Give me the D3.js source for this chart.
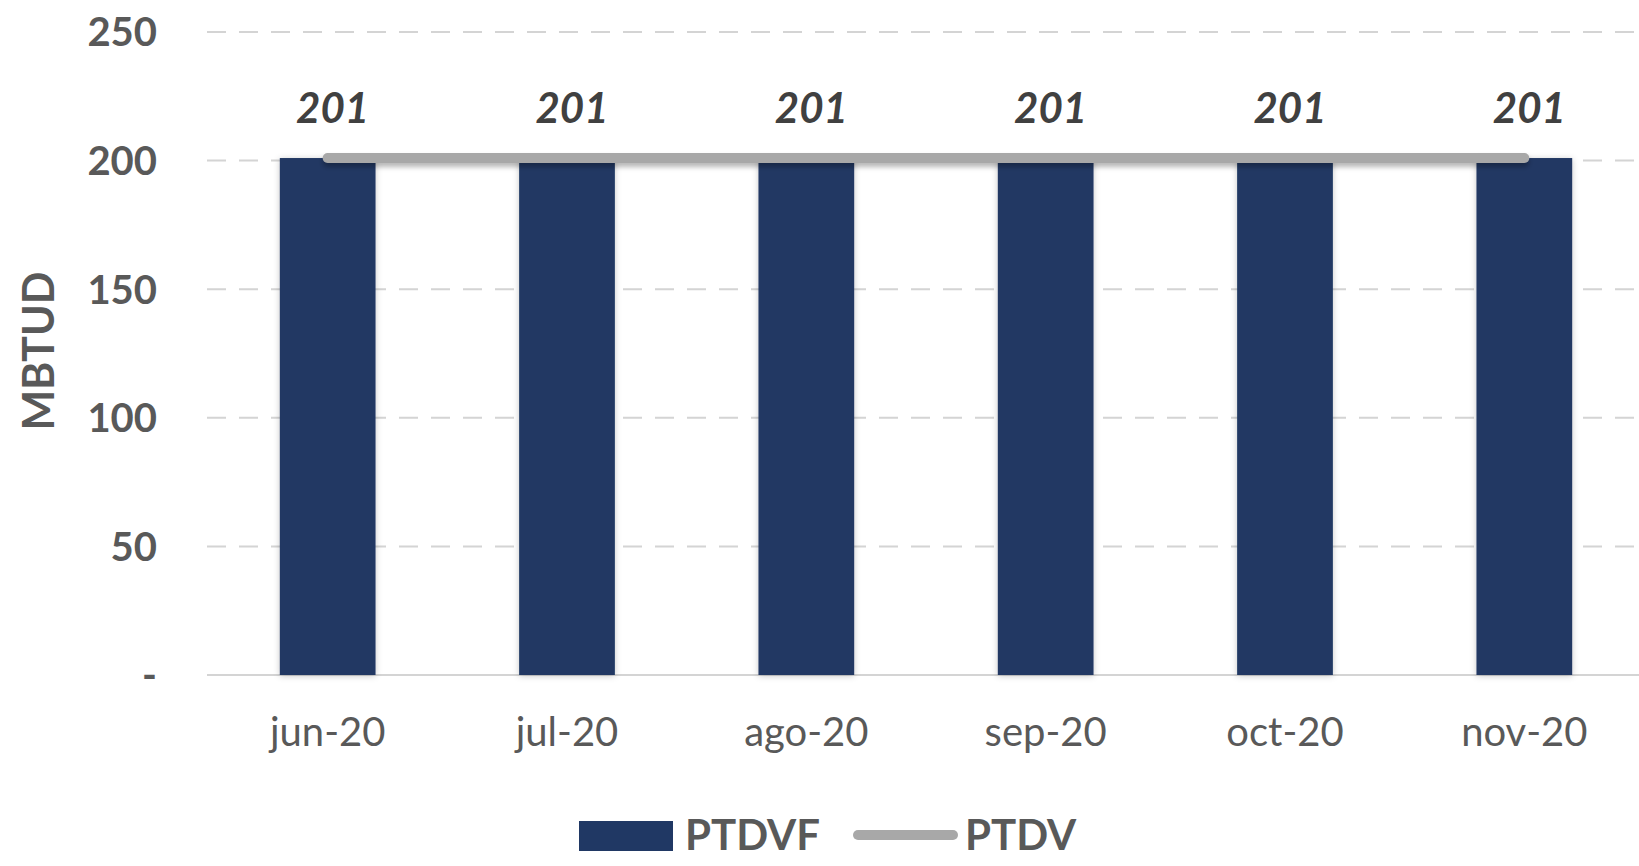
<!DOCTYPE html>
<html>
<head>
<meta charset="utf-8">
<script src="https://cdn.jsdelivr.net/npm/d3@7"></script>
<style>
  html, body { margin: 0; padding: 0; background: #fff; }
  svg { display: block; font-family: Lato, "Open Sans", sans-serif; }
</style>
</head>
<body>
<svg id="chart" width="1639" height="866"></svg>
<script>
const categories = ["jun-20", "jul-20", "ago-20", "sep-20", "oct-20", "nov-20"];
const ptdvf = [201, 201, 201, 201, 201, 201];
const ptdv = [201, 201, 201, 201, 201, 201];
const yTicks = [0, 50, 100, 150, 200, 250];
const seriesNames = ["PTDVF", "PTDV"];
const yTitle = "MBTUD";

const svg = d3.select("#chart");
const defs = svg.append("defs");
const sh = defs.append("filter").attr("id", "barShadow")
  .attr("filterUnits", "userSpaceOnUse")
  .attr("x", 0).attr("y", 0).attr("width", 1639).attr("height", 866);
sh.append("feDropShadow").attr("dx", 0).attr("dy", 1).attr("stdDeviation", 3)
  .attr("flood-color", "#000").attr("flood-opacity", 0.22);
const lsh = defs.append("filter").attr("id", "lineShadow")
  .attr("filterUnits", "userSpaceOnUse")
  .attr("x", 0).attr("y", 0).attr("width", 1639).attr("height", 866);
lsh.append("feDropShadow").attr("dx", 0).attr("dy", 4).attr("stdDeviation", 2.5)
  .attr("flood-color", "#000").attr("flood-opacity", 0.28);

const x = d3.scaleBand().domain(categories).range([208, 1644])
  .paddingInner(0.6).paddingOuter(0.3);
const y = d3.scaleLinear().domain([0, 250]).range([675, 32]);

// gridlines
svg.append("g").selectAll("line").data(yTicks.filter(t => t > 0)).join("line")
  .attr("x1", 207).attr("x2", 1639)
  .attr("y1", d => y(d)).attr("y2", d => y(d))
  .attr("stroke", "#d4d4d4").attr("stroke-width", 2)
  .attr("stroke-dasharray", "19 13");

// baseline
svg.append("line").attr("x1", 207).attr("x2", 1639)
  .attr("y1", y(0)).attr("y2", y(0))
  .attr("stroke", "#d4d4d4").attr("stroke-width", 2);

// y tick labels
svg.append("g").selectAll("text").data(yTicks).join("text")
  .attr("x", 157).attr("y", d => y(d)).attr("dy", "0.36em")
  .attr("text-anchor", "end")
  .attr("font-size", 40).attr("font-weight", 700).attr("fill", "#595959")
  .text(d => d === 0 ? "-" : d);

// y title
svg.append("text")
  .attr("transform", "translate(54,351) rotate(-90)")
  .attr("text-anchor", "middle")
  .attr("font-size", 43).attr("font-weight", 700).attr("fill", "#595959")
  .text(yTitle);

// bars
svg.append("g").selectAll("rect").data(ptdvf).join("rect")
  .attr("x", (d, i) => x(categories[i]))
  .attr("width", x.bandwidth())
  .attr("y", d => y(d))
  .attr("height", d => y(0) - y(d))
  .attr("fill", "#203864")
  .attr("filter", "url(#barShadow)");

// line
const line = d3.line()
  .x((d, i) => x(categories[i]) + x.bandwidth() / 2)
  .y(d => y(d));
svg.append("path").datum(ptdv)
  .attr("d", line)
  .attr("fill", "none")
  .attr("stroke", "#a8a8a8").attr("stroke-width", 10)
  .attr("stroke-linecap", "round")
  .attr("filter", "url(#lineShadow)");

// data labels
svg.append("g").selectAll("text").data(ptdvf).join("text")
  .attr("x", (d, i) => x(categories[i]) + x.bandwidth() / 2 + 5)
  .attr("y", d => y(d) - 35)
  .attr("text-anchor", "middle")
  .attr("font-size", 42).attr("font-weight", 700).attr("font-style", "italic")
  .attr("fill", "#404040")
  .text(d => d);

// x labels
svg.append("g").selectAll("text").data(categories).join("text")
  .attr("x", d => x(d) + x.bandwidth() / 2)
  .attr("y", y(0) + 71)
  .attr("text-anchor", "middle")
  .attr("font-size", 40).attr("fill", "#595959")
  .text(d => d);

// legend
const lg = svg.append("g");
lg.append("rect").attr("x", 579).attr("y", 821).attr("width", 94).attr("height", 30)
  .attr("fill", "#203864");
lg.append("text").attr("x", 685).attr("y", 850)
  .attr("font-size", 42).attr("font-weight", 700).attr("fill", "#595959")
  .text(seriesNames[0]);
lg.append("line").attr("x1", 858).attr("x2", 953).attr("y1", 835).attr("y2", 835)
  .attr("stroke", "#a8a8a8").attr("stroke-width", 10).attr("stroke-linecap", "round");
lg.append("text").attr("x", 965).attr("y", 850)
  .attr("font-size", 42).attr("font-weight", 700).attr("fill", "#595959")
  .text(seriesNames[1]);
</script>
</body>
</html>
